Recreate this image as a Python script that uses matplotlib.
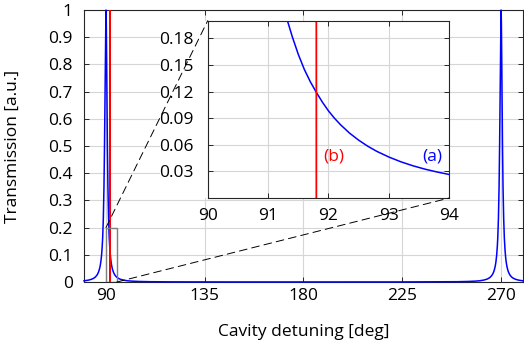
import numpy as np
import matplotlib.pyplot as plt
from matplotlib.patches import Rectangle, ConnectionPatch

plt.rcParams['font.family'] = ['Open Sans', 'DejaVu Sans']
plt.rcParams['font.size'] = 12.5

# ── Data ───────────────────────────────────────────────
# (a) blue: one resonance profile (offset from peak in deg -> transmission),
# the same shape seen at both peaks
peak_offset = [0, 0.05, 0.1, 0.15, 0.2, 0.25, 0.3, 0.375, 0.45, 0.55,
               0.66, 0.78, 0.9, 1.05, 1.2, 1.32, 1.4, 1.5, 1.6, 1.7,
               1.8, 1.9, 2.0, 2.1, 2.2, 2.35, 2.5, 2.65, 2.8, 3.0,
               3.2, 3.4, 3.6, 3.8, 4.0, 4.25, 4.5, 5.0, 5.5, 6.5,
               8, 10, 12, 15, 20, 30, 45, 60, 90]
peak_value = [1, 0.994, 0.978, 0.951, 0.916, 0.875, 0.829, 0.756, 0.683, 0.590,
              0.5, 0.417, 0.35, 0.283, 0.232, 0.2, 0.182, 0.162, 0.145, 0.131,
              0.119, 0.108, 0.0982, 0.0899, 0.0826, 0.0731, 0.0652, 0.0584, 0.0526, 0.0462,
              0.0408, 0.0363, 0.0325, 0.0293, 0.0265, 0.0235, 0.0211, 0.0171, 0.0142, 0.0102,
              0.0068, 0.0043, 0.0031, 0.002, 0.0011, 0.00053, 0.00027, 0.00018, 0.00013]
peak_centers = [90, 270]

# (b) red: very narrow resonance near 91.8 deg
red_x = [91.798, 91.80, 91.802]
red_y = [0, 1.0, 0]

x_ticks = [90, 135, 180, 225, 270]
y_ticks = [0, 0.1, 0.2, 0.3, 0.4, 0.5, 0.6, 0.7, 0.8, 0.9, 1]
y_tick_labels = ['0', '0.1', '0.2', '0.3', '0.4', '0.5', '0.6', '0.7', '0.8', '0.9', '1']

inset_x_ticks = [90, 91, 92, 93, 94]
inset_y_ticks = [0.03, 0.06, 0.09, 0.12, 0.15, 0.18]

zoom_box = (90, 0, 5, 0.2)   # x, y, width, height in data units

# build the blue trace: left peak out to 180, right peak from 180
off = np.array(peak_offset)
val = np.array(peak_value)
near = off <= 10
c1, c2 = peak_centers
blue_x = np.concatenate([c1 - off[near][::-1], c1 + off[1:],
                         c2 - off[::-1][1:], c2 + off[near][1:]])
blue_y = np.concatenate([val[near][::-1], val[1:],
                         val[::-1][1:], val[near][1:]])

W, H = 524, 342
edge = '#262626'
grid_c = '#d6d6d6'


def style(ax):
    ax.grid(True, color=grid_c, lw=0.8)
    ax.set_axisbelow(True)
    ax.tick_params(direction='in', length=3.5, width=0.7, top=True, right=True,
                   colors=edge, labelcolor='black')
    for s in ax.spines.values():
        s.set_color(edge)
        s.set_linewidth(0.8)


fig = plt.figure(figsize=(W / 100, H / 100), dpi=100)

# ── Main axes ─────────────────────────────
ax = fig.add_axes([84 / W, 1 - 282 / H, 439 / W, 272 / H])
ax.plot(blue_x, blue_y, color='#0000ff', lw=1.1, zorder=3, clip_on=False)
ax.plot(red_x, red_y, color='#ff0000', lw=1.0, zorder=3)
ax.add_patch(Rectangle(zoom_box[:2], zoom_box[2], zoom_box[3], fill=False,
                       edgecolor='#7f7f7f', lw=1.0, zorder=4))
ax.set_xlim(80, 280)
ax.set_ylim(0, 1)
ax.set_xticks(x_ticks)
ax.set_yticks(y_ticks)
ax.set_yticklabels(y_tick_labels)
style(ax)
ax.tick_params(axis='y', pad=8)
ax.tick_params(axis='x', pad=4)
ax.set_xlabel('Cavity detuning [deg]')
ax.xaxis.set_label_coords(0.5, -0.155)
ax.set_ylabel('Transmission [a.u.]')
ax.yaxis.set_label_coords(-0.145, 0.5)

# white area behind inset y tick labels
fig.add_artist(Rectangle((160 / W, 1 - 198 / H), (207.7 - 160) / W, 177.3 / H,
                         transform=fig.transFigure, facecolor='white',
                         edgecolor='none', zorder=1))

# ── Inset ─────────────────────────────
axin = fig.add_axes([207.7 / W, 1 - 198 / H, 241.6 / W, 177.3 / H], zorder=2)
axin.plot(blue_x, blue_y, color='#0000ff', lw=1.1)
axin.plot(red_x, red_y, color='#ff0000', lw=1.0)
axin.set_xlim(90, 94)
axin.set_ylim(0, 0.2)
axin.set_xticks(inset_x_ticks)
axin.set_yticks(inset_y_ticks)
axin.set_yticklabels(['%.2f' % v for v in inset_y_ticks])
style(axin)
axin.tick_params(axis='y', pad=10)
axin.tick_params(axis='x', pad=7)
axin.text(91.91, 0.047, '(b)', color='#ff0000', va='center', ha='left')
axin.text(93.71, 0.047, '(a)', color='#0000ff', va='center', ha='center')

# dashed connectors from zoom box to inset corners
for (xa, ya), (xb, yb) in [((90, 0.2), (90, 0.2)), ((95, 0), (94, 0))]:
    con = ConnectionPatch(xyA=(xa, ya), coordsA=ax.transData,
                          xyB=(xb, yb), coordsB=axin.transData,
                          color='black', lw=0.7, linestyle=(0, (8, 5)))
    con.set_zorder(5)
    fig.add_artist(con)

fig.savefig('out.png', dpi=100)
